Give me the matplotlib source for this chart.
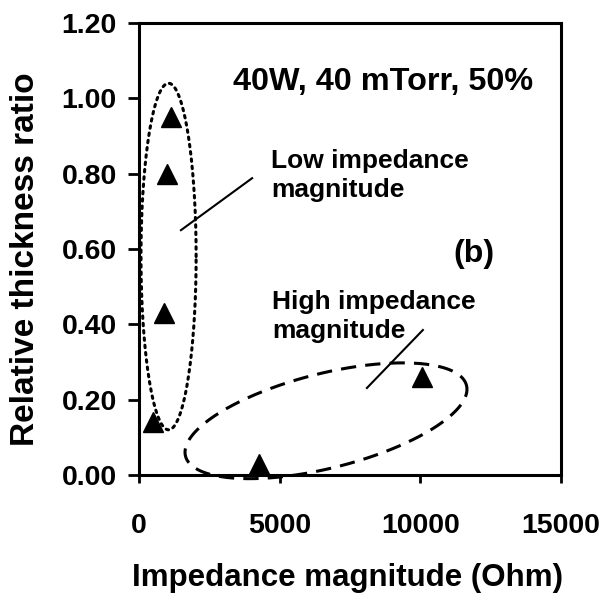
import numpy as np
import matplotlib
matplotlib.use('Agg')
import matplotlib.pyplot as plt

# data
impedance = [1150, 1010, 890, 500, 4250, 10060]   # Ohm
ratio = [0.95, 0.80, 0.43, 0.14, 0.03, 0.26]
x_ticks = [0, 5000, 10000, 15000]
y_ticks = [0.0, 0.2, 0.4, 0.6, 0.8, 1.0, 1.2]

plt.rcParams['font.family'] = ['Liberation Sans', 'DejaVu Sans']
plt.rcParams['font.weight'] = 'bold'

fig = plt.figure(figsize=(6.06, 5.96), dpi=100)
ax = fig.add_axes([0.2294, 0.203, 0.6964, 0.7584])

ax.plot(impedance, ratio, linestyle='none', marker='^', markersize=15,
        color='black', clip_on=False, zorder=3)

# dotted ellipse around the low impedance group
t = np.linspace(0, 2 * np.pi, 300)
ax.plot(1050 + 980 * np.cos(t), 0.58 + 0.46 * np.sin(t), color='black',
        linestyle=(0, (0.8, 1.6)), linewidth=2.2, dash_capstyle='round',
        clip_on=False)

# dashed (tilted) ellipse around the high impedance group
ax.plot(6646 + 5011 * np.cos(t), 0.144 + 0.0836 * np.cos(t) + 0.129 * np.sin(t),
        color='black', linestyle=(0, (5, 3)), linewidth=2.2, clip_on=False)

# leader lines
ax.plot([1490, 4020], [0.650, 0.788], color='black', linewidth=1.5)
ax.plot([8100, 10090], [0.231, 0.385], color='black', linewidth=1.5)

ax.text(3340, 1.022, '40W, 40 mTorr, 50%', fontsize=23.3, fontweight='bold')
ax.text(4690, 0.815, 'Low impedance', fontsize=19, fontweight='bold')
ax.text(4690, 0.738, 'magnitude', fontsize=19, fontweight='bold')
ax.text(11160, 0.565, '(b)', fontsize=23, fontweight='bold')
ax.text(4720, 0.44, 'High impedance', fontsize=19, fontweight='bold')
ax.text(4720, 0.363, 'magnitude', fontsize=19, fontweight='bold')

ax.set_xlim(0, 15000)
ax.set_ylim(0, 1.2)
ax.set_xticks(x_ticks)
ax.set_xticklabels([str(v) for v in x_ticks])
ax.set_yticks(y_ticks)
ax.set_yticklabels(['%.2f' % v for v in y_ticks])
ax.tick_params(axis='both', direction='out', width=2,
               labelsize=20.5, top=False, right=False)
ax.tick_params(axis='x', length=6, pad=21)
ax.tick_params(axis='y', length=8, pad=8)
for s in ax.spines.values():
    s.set_linewidth(2.2)

ax.set_xlabel('Impedance magnitude (Ohm)', fontsize=22.5, fontweight='bold', va='center')
ax.set_ylabel('Relative thickness ratio', fontsize=24, fontweight='bold', va='center')
ax.xaxis.set_label_coords(0.494, -0.228)
ax.yaxis.set_label_coords(-0.27, 0.478)

fig.savefig('out.png', dpi=100)
